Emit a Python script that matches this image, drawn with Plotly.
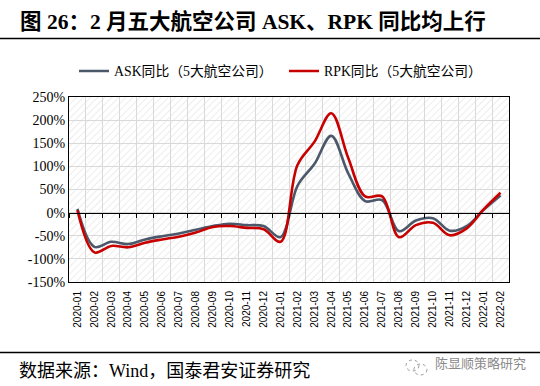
import base64
import plotly.graph_objects as go

categories = ['2020-01', '2020-02', '2020-03', '2020-04', '2020-05', '2020-06', '2020-07',
              '2020-08', '2020-09', '2020-10', '2020-11', '2020-12', '2021-01', '2021-02',
              '2021-03', '2021-04', '2021-05', '2021-06', '2021-07', '2021-08', '2021-09',
              '2021-10', '2021-11', '2021-12', '2022-01', '2022-02']
ask_yoy = [8, -74, -63, -68, -58, -51, -45, -37, -29, -24, -27, -29, -53, 58,
           105, 166, 85, 25, 27, -40, -17, -12, -39, -29, 6, 37]
rpk_yoy = [5, -86, -72, -75, -65, -58, -52, -43, -31, -29, -33, -36, -63, 103,
           153, 215, 118, 35, 35, -53, -27, -22, -49, -34, 7, 43]
y_ticks = [-150, -100, -50, 0, 50, 100, 150, 200, 250]
y_tick_text = ['%d%%' % v for v in y_ticks]

name_ask = 'ASK同比（5大航空公司）'
name_rpk = 'RPK同比（5大航空公司）'

W, H = 540, 386
L, R, T, B = 69, 31, 97, 104
pw, ph = W - L - R, H - T - B

def px_y(py):
    return (H - B - py) / ph

def px_x(px):
    return (px - L) / pw

fig = go.Figure()
fig.add_trace(go.Scatter(x=categories, y=ask_yoy, name=name_ask, mode='lines',
                         line=dict(color='#4b586a', width=2.6, shape='spline', smoothing=1.0)))
fig.add_trace(go.Scatter(x=categories, y=rpk_yoy, name=name_rpk, mode='lines',
                         line=dict(color='#c80000', width=2.6, shape='spline', smoothing=1.0)))
# helper trace for the zero-line axis with ticks
fig.add_trace(go.Scatter(x=categories, y=[None] * len(categories), xaxis='x2', showlegend=False,
                         hoverinfo='skip', mode='lines'))

svg = ('<svg xmlns="http://www.w3.org/2000/svg" width="%d" height="%d" viewBox="0 0 %d %d" '
       'preserveAspectRatio="none"><defs><pattern id="h" width="5" height="5" '
       'patternUnits="userSpaceOnUse" patternTransform="rotate(45)">'
       '<line x1="0" y1="0" x2="0" y2="5" stroke="#e4e4e4" stroke-width="1.3"/></pattern></defs>'
       '<rect width="100%%" height="100%%" fill="url(#h)"/></svg>') % (pw, ph, pw, ph)
uri = 'data:image/svg+xml;base64,' + base64.b64encode(svg.encode()).decode()

n = len(categories)
yr = [y_ticks[0], y_ticks[-1]]
zero_pos = (0 - yr[0]) / (yr[1] - yr[0])

fig.update_layout(
    width=W, height=H,
    margin=dict(l=L, r=R, t=T, b=B),
    paper_bgcolor='white', plot_bgcolor='white',
    images=[dict(source=uri, xref='paper', yref='paper', x=0, y=1, sizex=1, sizey=1,
                 sizing='stretch', layer='below')],
    title=dict(text='<b>图 26：2 月五大航空公司 ASK、RPK 同比均上行</b>',
               x=20 / W, xanchor='left', y=1 - 21 / H, yanchor='middle',
               font=dict(family='Liberation Serif, Noto Sans CJK SC', size=21.5, color='black')),
    legend=dict(orientation='h', x=px_x(74), xanchor='left', y=px_y(71), yanchor='middle',
                font=dict(family='Liberation Serif, Noto Sans CJK SC', size=13.8, color='black'),
                entrywidth=165, entrywidthmode='pixels', itemwidth=30,
                bgcolor='rgba(0,0,0,0)'),
    xaxis=dict(type='category', range=[-0.5, n - 0.5], tickson='boundaries',
               showgrid=True, gridcolor='#d9d9d9', gridwidth=1.2, automargin=False,
               showline=True, linecolor='black', linewidth=1, mirror=True,
               ticks='', tickangle=-90, ticklabelstandoff=4,
               tickfont=dict(family='Liberation Sans, Arial', size=10, color='black')),
    xaxis2=dict(type='category', range=[-0.5, n - 0.5], overlaying='x', anchor='free',
                position=zero_pos, tickson='boundaries', showgrid=False,
                showline=True, linecolor='black', linewidth=1.2,
                ticks='outside', ticklen=4, tickcolor='black', showticklabels=False),
    yaxis=dict(range=yr, tickvals=y_ticks, ticktext=y_tick_text, showgrid=True,
               gridcolor='#d9d9d9', gridwidth=1.2, zeroline=False, automargin=False,
               showline=True, linecolor='black', linewidth=1, mirror=True, ticks='',
               tickfont=dict(family='Liberation Serif, Times New Roman', size=14, color='black')),
    showlegend=True,
)

shapes = [
    dict(type='line', xref='paper', yref='paper', x0=px_x(0), x1=px_x(W), y0=px_y(38.5), y1=px_y(38.5),
         line=dict(color='black', width=1.5)),
    dict(type='line', xref='paper', yref='paper', x0=px_x(0), x1=px_x(W), y0=px_y(352.5), y1=px_y(352.5),
         line=dict(color='black', width=1.5)),
    dict(type='circle', xref='paper', yref='paper', x0=px_x(406), x1=px_x(419), y0=px_y(371), y1=px_y(360),
         line=dict(color='#9a9a9a', width=1, dash='dot')),
    dict(type='circle', xref='paper', yref='paper', x0=px_x(414), x1=px_x(427), y0=px_y(375), y1=px_y(364),
         line=dict(color='#9a9a9a', width=1, dash='dot')),
]
fig.update_layout(shapes=shapes)

fig.add_annotation(text='数据来源：Wind，国泰君安证券研究', xref='paper', yref='paper',
                   x=px_x(17), y=px_y(371), xanchor='left', yanchor='middle', showarrow=False,
                   font=dict(family='Liberation Serif, Noto Sans CJK SC', size=18, color='black'))
fig.add_annotation(text='陈显顺策略研究', xref='paper', yref='paper',
                   x=px_x(433), y=px_y(362), xanchor='left', yanchor='middle', showarrow=False,
                   font=dict(family='Noto Sans CJK SC', size=13, color='#8a8a8a'))

fig.write_html('out.html', config={'displayModeBar': False},
               post_script="document.body.style.margin='0';")
